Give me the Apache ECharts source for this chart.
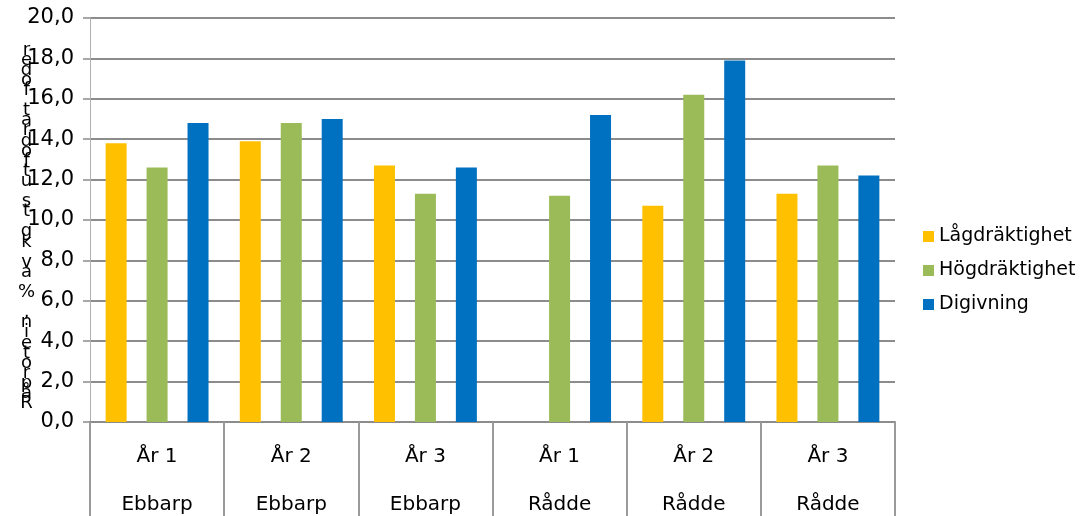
<!DOCTYPE html>
<html>
<head>
<meta charset="utf-8">
<script src="https://cdn.jsdelivr.net/npm/echarts@6/dist/echarts.min.js"></script>
<style>
  html, body { margin: 0; padding: 0; background: #fff; overflow: hidden; }
  #chart { position: absolute; left: 0; top: 0; width: 1082px; height: 516px; }
</style>
</head>
<body>
<div id="chart"></div>
<script>
// Crude protein per period and farm
const years = ['År 1', 'År 2', 'År 3', 'År 1', 'År 2', 'År 3'];
const farms = ['Ebbarp', 'Ebbarp', 'Ebbarp', 'Rådde', 'Rådde', 'Rådde'];
const seriesNames = ['Lågdräktighet', 'Högdräktighet', 'Digivning'];
const lagdraktighet = [13.8, 13.9, 12.7, null, 10.7, 11.3];
const hogdraktighet = [12.6, 14.8, 11.3, 11.2, 16.2, 12.7];
const digivning = [14.8, 15.0, 12.6, 15.2, 17.9, 12.2];
const yMin = 0, yMax = 20, yStep = 2;
const yTitle = 'Råprotein, % av kg ts utfodrat foder';

const colors = ['#FFC000', '#9BBB59', '#0070C0'];
const font = 'DejaVu Sans';

// stacked, bottom-to-top title characters
const stackedTitle = yTitle.split('').reverse().join('\n');

const chart = echarts.init(document.getElementById('chart'), null, {
  renderer: 'canvas', width: 1082, height: 516
});

const categoryLabels = years.map((y, i) => y + '\n' + farms[i]);
const values = [lagdraktighet, hogdraktighet, digivning];

chart.setOption({
  animation: false,
  backgroundColor: '#ffffff',
  color: colors,
  grid: {
    left: 90, right: 187, top: 18, bottom: 94,
    containLabel: false,
    outerBoundsMode: 'none'
  },
  legend: {
    orient: 'vertical',
    left: 918,
    top: 222,
    icon: 'rect',
    itemWidth: 11,
    itemHeight: 11,
    itemGap: 15,
    textStyle: { fontFamily: font, fontSize: 19, color: '#000' },
    data: seriesNames
  },
  xAxis: {
    type: 'category',
    data: categoryLabels,
    boundaryGap: true,
    axisLine: { show: true, lineStyle: { color: '#8c8c8c', width: 2 } },
    axisTick: { show: true, interval: 0, length: 94, lineStyle: { color: '#9a9a9a', width: 2 } },
    axisLabel: {
      interval: 0,
      margin: 11,
      lineHeight: 48,
      fontFamily: font,
      fontSize: 20,
      color: '#000'
    },
    splitLine: { show: false }
  },
  yAxis: {
    type: 'value',
    min: yMin,
    max: yMax,
    interval: yStep,
    axisLine: { show: true, lineStyle: { color: '#b0b0b0', width: 1 } },
    axisTick: { show: true, inside: false, length: 7, lineStyle: { color: '#8c8c8c', width: 1.5 } },
    axisLabel: {
      margin: 16,
      fontFamily: font,
      fontSize: 21,
      color: '#000',
      formatter: v => v.toFixed(1).replace('.', ',')
    },
    splitLine: { show: true, lineStyle: { color: '#8c8c8c', width: 2 } }
  },
  graphic: [{
    type: 'text',
    left: 18,
    top: 41,
    style: {
      text: stackedTitle,
      fontFamily: font,
      fontSize: 18,
      lineHeight: 10.1,
      fill: '#000',
      textAlign: 'center',
      textVerticalAlign: 'top'
    },
    silent: true
  }],
  series: seriesNames.map((name, i) => ({
    name: name,
    type: 'bar',
    data: values[i],
    barWidth: 21,
    barGap: '95%',
    itemStyle: { color: colors[i] }
  }))
});
</script>
</body>
</html>
